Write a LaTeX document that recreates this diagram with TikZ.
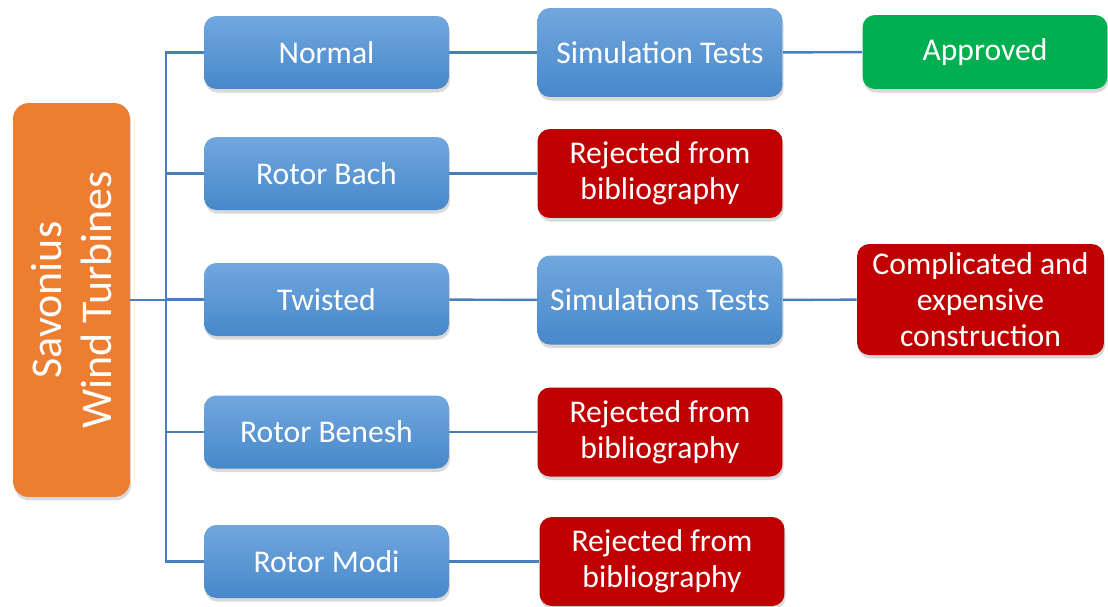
\documentclass[tikz,border=0pt]{standalone}
\usepackage{fontspec}
\setmainfont{Carlito}
\usepackage{xcolor}
\usetikzlibrary{positioning,shadows}
\definecolor{blueTop}{HTML}{71A7DE}
\definecolor{blueBot}{HTML}{4788CA}
\definecolor{lineBlue}{HTML}{4A7EBB}
\definecolor{rejRed}{HTML}{C00000}
\definecolor{okGreen}{HTML}{00B050}
\definecolor{rootOrange}{HTML}{ED7D31}

\begin{document}
\begin{tikzpicture}[x=0.02cm, y=-0.02cm,
    font=\fontsize{18}{20.5}\selectfont,
    box/.style={rounded corners=7pt, text=white, align=center, inner sep=2pt,
        minimum width=4.9cm, drop shadow={shadow xshift=0.6pt, shadow yshift=-2pt, opacity=0.3}},
    kind/.style={box, top color=blueTop, bottom color=blueBot, minimum height=1.46cm},
    test/.style={box, top color=blueTop, bottom color=blueBot, minimum height=1.78cm},
    reject/.style={box, fill=rejRed, minimum height=1.78cm},
    link/.style={draw=lineBlue, line width=1.4pt}]
            \useasboundingbox (0,0) rectangle (1108,606);

            % Nodes
            \node (S) [box, fill=rootOrange, rotate=90, minimum width=7.88cm, minimum height=2.34cm,
                rounded corners=9pt, font=\fontsize{25}{28.5}\selectfont] at (71.5,300) {Savonius\\Wind Turbines};
            \coordinate (T) at (166,300);
            \node (A) [kind] at (326.5,52.5) {Normal};
            \node (B) [kind] at (326.5,173.5) {Rotor Bach};
            \node (C) [kind] at (326.5,299.5) {Twisted};
            \node (D) [kind] at (326.5,432) {Rotor Benesh};
            \node (E) [kind] at (326.5,561.5) {Rotor Modi};
            \node (A2) [test] at (660,52.5) {Simulation Tests};
            \node (B2) [reject] at (660,173.5) {Rejected from\\bibliography};
            \node (C2) [test] at (660,300) {Simulations Tests};
            \node (D2) [reject] at (660,432) {Rejected from\\bibliography};
            \node (E2) [reject] at (662,561.5) {Rejected from\\bibliography};
            \node (A3) [box, fill=okGreen, minimum height=1.48cm] at (985,52) {Approved};
            \node (C3) [reject, minimum height=2.22cm, minimum width=4.94cm] at (980.5,299.5) {Complicated and\\expensive\\construction};
            % Tree lines
            \draw [link] (S.south) -- (T);
            \foreach \n in {A,B,C,D,E}
                \draw [link] (T) |- (\n.west);
            \foreach \n in {A,B,C,D,E}
                \draw [link] (\n) -- (\n2);
            \draw [link] (A2) -- (A3);
            \draw [link] (C2) -- (C3);
        \end{tikzpicture}
\end{document}
